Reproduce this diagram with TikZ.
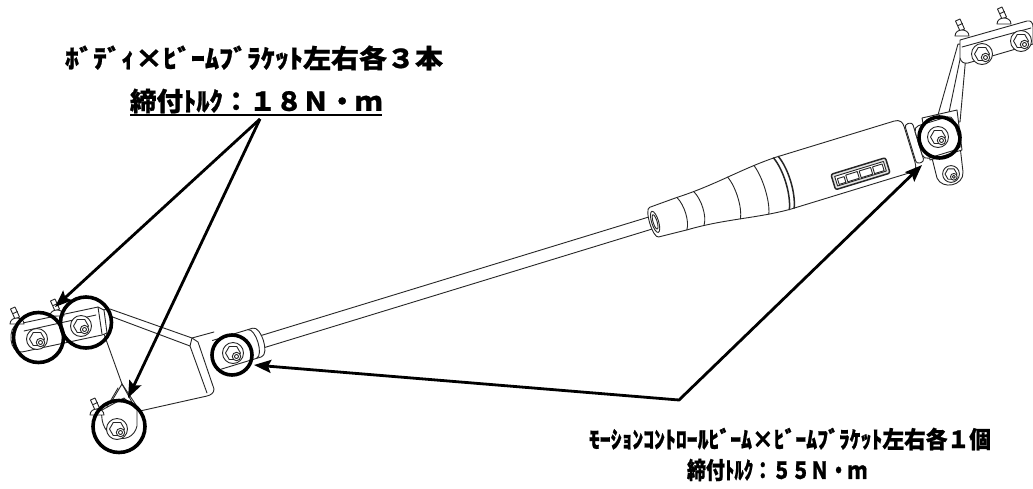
\documentclass[tikz,border=0pt]{standalone}
\usepackage{fontspec}
\usepackage{graphicx}
\newfontfamily\jp{Noto Sans CJK JP}[BoldFeatures={FakeBold=0.8}]
\usetikzlibrary{arrows.meta}
% #1 = set width, #2 = font size, #3 = text
\newcommand\jtext[3]{\resizebox{#1}{\height}{\jp\bfseries\fontsize{#2}{#2}\selectfont #3}}

\tikzset{
  part/.style={draw=black!85, line width=0.9pt, line join=round, line cap=round},
  hilite/.style={circle, draw=black, line width=3.6pt, inner sep=0pt},
  tip/.style={-{Stealth[length=17pt,width=13pt,inset=3pt]}},
  twotips/.style={{Stealth[length=17pt,width=13pt,inset=3pt]}-{Stealth[length=17pt,width=13pt,inset=3pt]}},
  callout/.style={draw=black, line width=2.8pt, line join=miter},
  lbl/.style={inner sep=0pt, outer sep=0pt},
  nutbolt/.pic={
    \draw[part, fill=white] (0,0) circle (10.5);
    \draw[part, fill=white] (0:7.5) -- (60:7.5) -- (120:7.5) -- (180:7.5) -- (240:7.5) -- (300:7.5) -- cycle;
    \draw[part, fill=white] (3.5,3.5) circle (4.2);
    \draw[part] (3.5,3.5) circle (2);
  },
  weldstud/.pic={
    \draw[part, fill=white] (-2,-3) -- (-6.5,-13) -- (-2,-15) -- (2.5,-5) -- cycle;
    \draw[part] (-3.8,-8.5) -- (0.5,-10.5);
    \draw[part, fill=white] (-7,2) .. controls (-7,-6) and (7,-6) .. (7,2) -- cycle;
  },
}

\begin{document}
\begin{tikzpicture}[x=1pt,y=-1pt]
\useasboundingbox (0,0) rectangle (1033,488);
\fill[white] (0,0) rectangle (1033,488);

% ---------- left body bracket ----------
\draw[part, fill=white] (110,309) -- (192,338) -- (198,342) -- (214,389)
  .. controls (214,393) and (211,395) .. (207,396) -- (140,411) -- (122,384)
  -- (104,334) -- (102,310) -- cycle;
\draw[part] (110,316) -- (190,346) -- (207,393);
\draw[part] (192,338) -- (214,332);
\draw[part] (190,346) -- (192,338);
% gusset above the lower bolt
\draw[part] (122,384) -- (110,404);
\draw[part] (122,384) -- (133,404);
\draw[part] (118,388) -- (104,412);
% lower tab
\draw[part, fill=white] (102,410) .. controls (98,440) and (132,448) .. (137,426)
  -- (137,410) -- (124,398) -- cycle;
\pic at (97,413) {weldstud};
\pic at (117,429) {nutbolt};
% upper strip with two bolts
\draw[part, fill=white] (18,324) -- (98,307) -- (104,310) -- (107,333) -- (102,335)
  -- (22,352) .. controls (9,354) and (7,327) .. (18,324) -- cycle;
\draw[part] (24,331) -- (96,315);
\draw[part] (98,307) -- (102,334);
\pic at (17,322) {weldstud};
\pic at (57,314) {weldstud};
\pic at (37,339) {nutbolt};
\pic at (81,326) {nutbolt};

% ---------- right body bracket ----------
\draw[part, fill=white] (936,122) -- (958,44) -- (967,45) -- (965,66) -- (960,122) -- cycle;
\draw[part] (947,122) -- (963,45);
\draw[part, fill=white] (960,40) -- (1027,21) .. controls (1031,20) and (1033,23) .. (1033,27)
  -- (1033,44) -- (968,63) .. controls (964,64) and (961,62) .. (960,58) -- cycle;
\draw[part] (962,47) -- (1031,28);
\pic at (962,34) {weldstud};
\pic at (1004,22) {weldstud};
\pic at (982,54) {nutbolt};
\pic at (1021,41) {nutbolt};
\draw[part, fill=white] (930,150) -- (960,146) -- (963,172)
  .. controls (964,186) and (942,190) .. (937,178) -- cycle;
\pic[scale=0.8] at (951,174) {nutbolt};
\draw[part, fill=white] (922,118) -- (957,110) -- (962,150) -- (930,160) -- cycle;

% ---------- motion control beam (drawn along its own axis) ----------
\begin{scope}[shift={(233,353)}, rotate=17]
  % left eye
  \draw[part, fill=white] (-16,-18) -- (26,-18) .. controls (35,-18) and (35,12) .. (26,12) -- (-16,12);
  \draw[part] (21,-18) .. controls (29,-17) and (29,11) .. (21,12);
  % rod
  \draw[part] (32,-8.5) -- (439,-8.5);
  \draw[part] (32,4) -- (439,4);
  % damper body outline
  \draw[part, fill=white] (441,-17.5) -- (470,-19)
    .. controls (510,-19.5) and (540,-27.5) .. (576,-28.5) -- (700,-28.5)
    .. controls (706,-28.5) and (708,-25) .. (708,-20) -- (708,17)
    .. controls (708,23) and (706,25.5) .. (700,25.5) -- (576,25.5)
    .. controls (540,24.5) and (510,15.5) .. (470,15) -- (441,13.5)
    .. controls (435,13.5) and (435,-17.5) .. (441,-17.5) -- cycle;
  \draw[part] (442,-2) ellipse [x radius=3.5, y radius=11];
  \draw[part] (442,-2) ellipse [x radius=2, y radius=7.5];
  % section lines of the tapered front
  \foreach \u/\t/\b in {470/-19/15, 488/-19.2/15.2, 524.5/-23.6/20, 553/-27/23.9}
    \draw[part] (\u,\t) .. controls (\u+5,\t*0.5) and (\u+5,\b*0.5) .. (\u,\b);
  \draw[part, line width=1.5pt] (574,-28.5) .. controls (580,-14) and (580,11) .. (574,25.5);
  \draw[part, line width=1.5pt] (579,-28.5) .. controls (585,-14) and (585,11) .. (579,25.5);
  % name plate
  \draw[part, line width=1.5pt, fill=black!10, rounded corners=2] (624,4) rectangle (681,20);
  \draw[part, fill=white] (627,7) rectangle (678,17);
  \draw[part] (629,10) rectangle (636,16) (638,9) rectangle (650,16)
              (652,9) rectangle (664,16) (666,9) rectangle (676,16);
  % end flange and right eye
  \draw[part, fill=white, rounded corners=3] (709,-22) rectangle (717,19);
  \draw[part, fill=white, rounded corners=5] (717,-17) rectangle (757,17);
\end{scope}
\pic at (233,353) {nutbolt};
\pic at (938,137) {nutbolt};

% ---------- tightening points ----------
\node[hilite, minimum size=50pt] (c1) at (38.5,337.5) {};
\node[hilite, minimum size=51pt] (c2) at (86,322.5) {};
\node[hilite, minimum size=52pt] (c3) at (119,426.5) {};
\node[hilite, minimum size=40pt] (c4) at (232,355) {};
\node[hilite, minimum size=41pt] (c5) at (939.5,137.5) {};

% ---------- labels ----------
\node[lbl] (t1a) at (254,58) {\jtext{378pt}{26pt}{ﾎﾞﾃﾞｨ×ﾋﾞｰﾑﾌﾞﾗｹｯﾄ左右各３本}};
\node[lbl] (t1b) at (256,101) {\jtext{252pt}{26pt}{締付ﾄﾙｸ：１８Ｎ・ｍ}};
\coordinate (ulA) at (130,115);
\coordinate (ulB) at (382,115);
\draw[line width=2pt] (ulA) -- (ulB);
\node[lbl] (t2a) at (790,439) {\jtext{402pt}{23.5pt}{ﾓｰｼｮﾝｺﾝﾄﾛｰﾙﾋﾞｰﾑ×ﾋﾞｰﾑﾌﾞﾗｹｯﾄ左右各１個}};
\node[lbl] (t2b) at (777,470) {\jtext{180pt}{23.5pt}{締付ﾄﾙｸ：５５Ｎ・ｍ}};

% ---------- callout arrows ----------
\coordinate (hub) at (260,119);
\coordinate (tipA) at (55,307);
\coordinate (tipB) at (128,398);
\draw[callout, tip] (hub) -- (tipA);
\draw[callout, tip] (hub) -- (tipB);
\coordinate (knee) at (679,400);
\coordinate (tipC) at (254,365);
\coordinate (tipD) at (922,165);
\draw[callout, twotips] (tipC) -- (knee) -- (tipD);
\end{tikzpicture}
\end{document}
